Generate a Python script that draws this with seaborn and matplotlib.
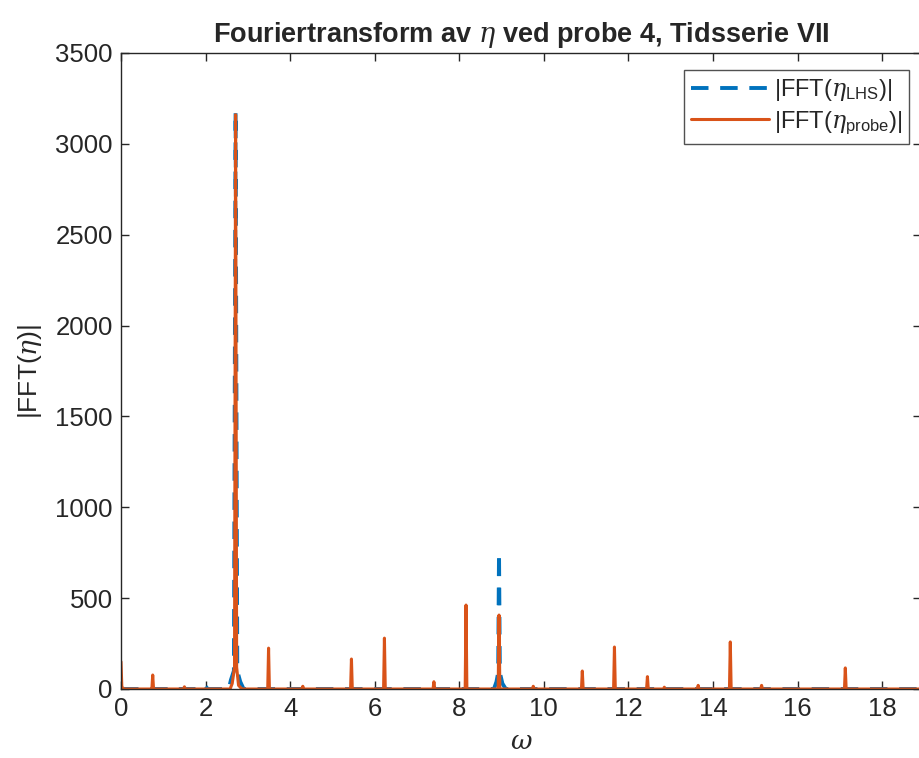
import matplotlib
matplotlib.use("Agg")
import matplotlib.pyplot as plt
import seaborn as sns
import pandas as pd

# Frequency axis (omega) and spectral magnitudes
omega_probe = [0.0, 0.02, 0.08, 0.73, 0.75, 0.77, 1.48, 1.5, 1.52, 2.58, 2.63, 2.685, 2.71, 2.735, 2.78, 2.86,
               3.47, 3.49, 3.51, 4.28, 4.3, 4.32, 5.43, 5.45, 5.47, 6.21, 6.23, 6.25, 7.38, 7.4, 7.42,
               8.14, 8.16, 8.18, 8.92, 8.94, 8.96, 9.73, 9.75, 9.77, 10.89, 10.91, 10.93, 11.65, 11.67, 11.69,
               12.43, 12.45, 12.47, 12.83, 12.85, 12.87, 13.63, 13.65, 13.67, 14.39, 14.41, 14.43, 15.13, 15.15, 15.17,
               17.11, 17.13, 17.15, 18.9]
abs_probe = [150, 10, 0, 0, 77, 0, 0, 12, 0, 0, 30, 120, 3160, 120, 20, 0,
             0, 225, 0, 0, 15, 0, 0, 165, 0, 0, 280, 0, 0, 40, 0,
             0, 462, 0, 0, 407, 0, 0, 15, 0, 0, 99, 0, 0, 231, 0,
             0, 68, 0, 0, 10, 0, 0, 20, 0, 0, 259, 0, 0, 20, 0,
             0, 116, 0, 0]

omega_lhs = [0.0, 1.25, 1.3, 1.35, 1.95, 2.0, 2.05, 2.55, 2.6, 2.67, 2.71, 2.75, 2.82, 2.9,
             8.82, 8.88, 8.92, 8.94, 8.96, 9.02, 9.1, 18.9]
abs_lhs = [0, 0, 10, 0, 0, 15, 0, 0, 50, 100, 3180, 100, 40, 0,
           0, 40, 90, 750, 90, 30, 0, 0]

x_ticks = [0, 2, 4, 6, 8, 10, 12, 14, 16, 18]
y_ticks = [0, 500, 1000, 1500, 2000, 2500, 3000, 3500]

sns.set_style("ticks")
plt.rcParams["font.family"] = ["Liberation Sans", "DejaVu Sans"]
plt.rcParams["mathtext.fontset"] = "custom"
plt.rcParams["mathtext.rm"] = "Liberation Sans"
plt.rcParams["mathtext.it"] = "DejaVu Serif:italic"
plt.rcParams["mathtext.bf"] = "Liberation Sans:bold"

blue = "#0072BD"
orange = "#D95319"

fig = plt.figure(figsize=(9.2, 7.58), dpi=100)
ax = fig.add_axes([121 / 920, (758 - 689) / 758, (921 - 121) / 920, (689 - 53) / 758])

df_lhs = pd.DataFrame({"omega": omega_lhs, "val": abs_lhs})
df_probe = pd.DataFrame({"omega": omega_probe, "val": abs_probe})

sns.lineplot(data=df_lhs, x="omega", y="val", ax=ax, color=blue, linewidth=2.8,
             dashes=False, linestyle=(0, (4.5, 3)), label=r"|FFT($\eta_{\mathrm{LHS}}$)|", sort=False)
sns.lineplot(data=df_probe, x="omega", y="val", ax=ax, color=orange, linewidth=2.2,
             label=r"|FFT($\eta_{\mathrm{probe}}$)|", sort=False)

ax.set_xlim(0, 18.92)
ax.set_ylim(0, 3500)
ax.set_xticks(x_ticks)
ax.set_yticks(y_ticks)
ax.tick_params(direction="in", length=6, width=1, labelsize=18.5, top=True, right=True,
               colors="#262626", pad=6)
for s in ax.spines.values():
    s.set_linewidth(1)
    s.set_color("#262626")

ax.set_xlabel(r"$\omega$", fontsize=19, color="#262626", labelpad=6)
ax.set_ylabel(r"|FFT($\eta$)|", fontsize=19, color="#262626", labelpad=8)
ax.set_title(r"Fouriertransform av $\eta$ ved probe 4, Tidsserie VII", fontsize=19.5,
             fontweight="bold", pad=8)

leg = ax.legend(loc="upper right", bbox_to_anchor=(0.985, 0.973), fontsize=17,
                frameon=True, fancybox=False, handlelength=3.3, borderpad=0.3,
                labelspacing=0.25, handletextpad=0.2, borderaxespad=0)
leg.get_frame().set_edgecolor("#262626")
leg.get_frame().set_linewidth(1)

fig.savefig("out.png", dpi=100)
